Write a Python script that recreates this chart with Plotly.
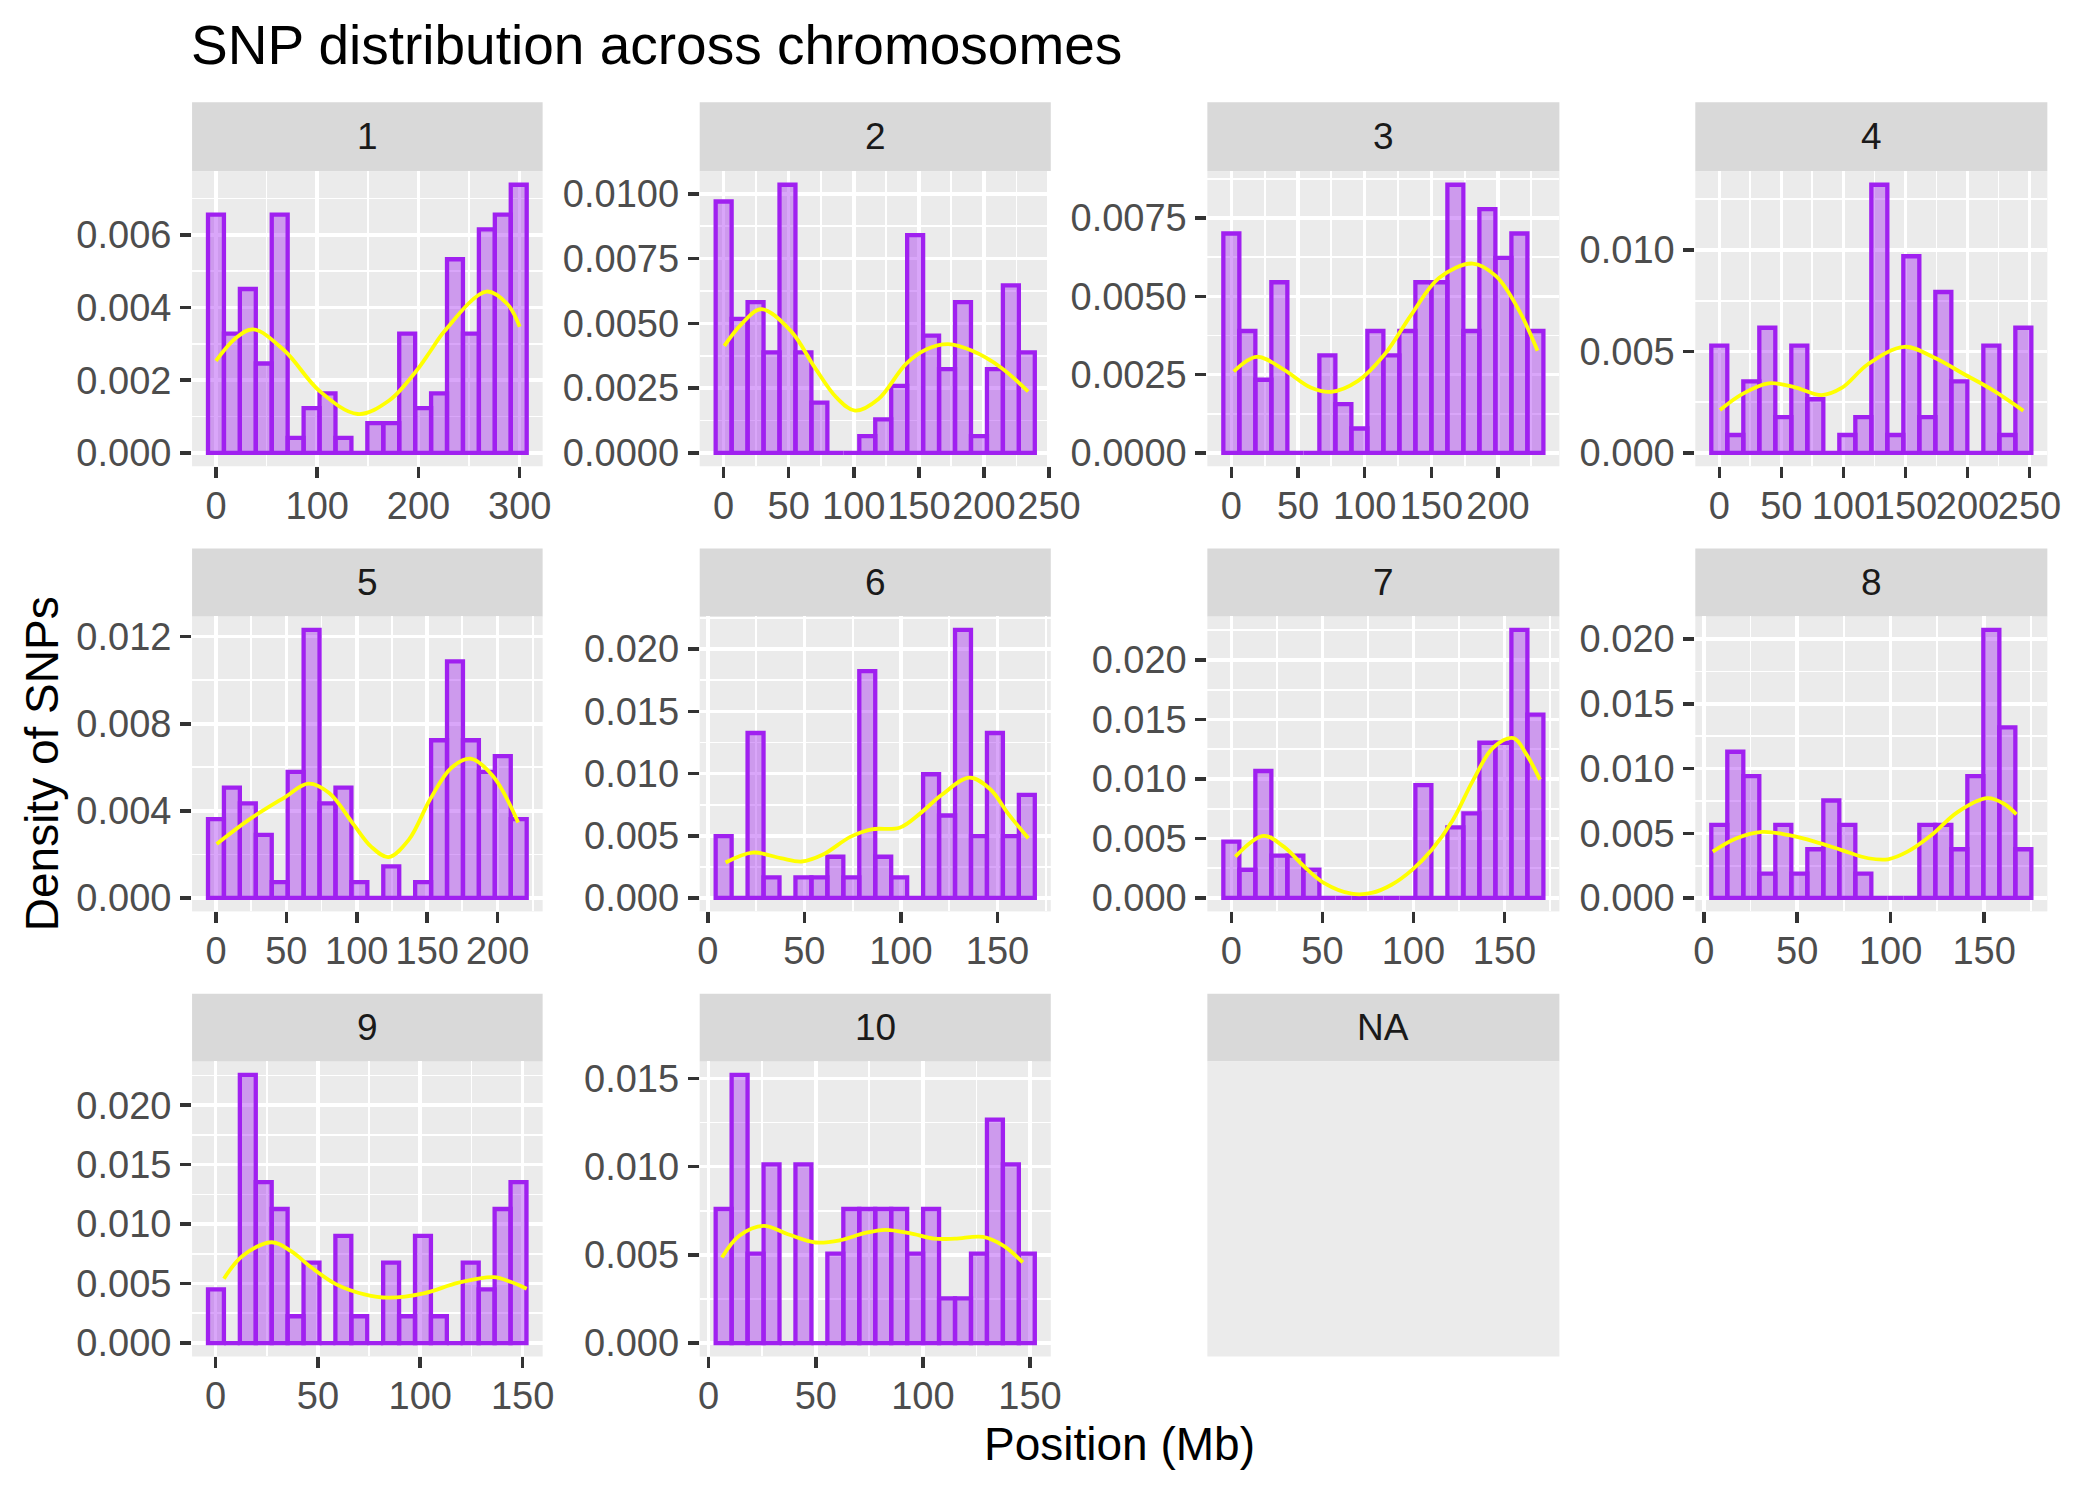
import numpy as np
import plotly.graph_objects as go

# ---------------- data ----------------
chromosomes = ["1", "2", "3", "4", "5", "6", "7", "8", "9", "10"]

# centre of first and last histogram bin (Mb), 20 bins each
bin_first = [0.0, 0.0, 0.0, 0.0, 0.0, 8.2, 0.0, 8.3, 0.2, 7.0]
bin_last = [299.0, 233.0, 228.0, 245.0, 215.0, 165.2, 167.0, 171.0, 148.0, 148.5]

# SNP counts per bin
counts_1 = [16, 8, 11, 6, 16, 1, 3, 4, 1, 0, 2, 2, 8, 3, 4, 13, 8, 15, 16, 18]
counts_2 = [15, 8, 9, 6, 16, 6, 3, 0, 0, 1, 2, 4, 13, 7, 5, 9, 1, 5, 10, 6]
counts_3 = [9, 5, 3, 7, 0, 0, 4, 2, 1, 5, 4, 5, 7, 7, 11, 5, 10, 8, 9, 5]
counts_4 = [6, 1, 4, 7, 2, 6, 3, 0, 1, 2, 15, 1, 11, 2, 9, 4, 0, 6, 1, 7]
counts_5 = [5, 7, 6, 4, 1, 8, 17, 6, 7, 1, 0, 2, 0, 1, 10, 15, 10, 8, 9, 5]
counts_6 = [3, 0, 8, 1, 0, 1, 1, 2, 1, 11, 2, 1, 0, 6, 4, 13, 3, 8, 3, 5]
counts_7 = [4, 2, 9, 3, 3, 2, 0, 0, 0, 0, 0, 0, 8, 0, 5, 6, 11, 11, 19, 13]
counts_8 = [3, 6, 5, 1, 3, 1, 2, 4, 3, 1, 0, 0, 0, 3, 3, 2, 5, 11, 7, 2]
counts_9 = [2, 0, 10, 6, 5, 1, 3, 0, 4, 1, 0, 3, 1, 4, 1, 0, 3, 2, 5, 6]
counts_10 = [3, 6, 2, 4, 0, 4, 0, 2, 3, 3, 3, 3, 2, 3, 1, 1, 2, 5, 4, 2]
counts_all = [counts_1, counts_2, counts_3, counts_4, counts_5,
              counts_6, counts_7, counts_8, counts_9, counts_10]

# kernel density curves (x in Mb, y in 1e-3 density units)
dens_x_1 = [0, 19.6, 36.8, 67.8, 102, 140, 171, 198, 212, 226, 267, 288, 300]
dens_y_1 = [2.53, 3.16, 3.40, 2.81, 1.71, 1.07, 1.44, 2.26, 2.81, 3.36, 4.44, 4.09, 3.47]
dens_x_2 = [0.5, 13.7, 28.8, 51.6, 70, 86.6, 101, 119, 140, 156, 172.6, 191, 213, 234]
dens_y_2 = [4.13, 4.97, 5.55, 4.71, 3.30, 2.14, 1.63, 2.08, 3.43, 4.0, 4.20, 3.94, 3.30, 2.37]
dens_x_3 = [1.8, 19, 39, 59.5, 74.7, 95, 115, 135, 155.7, 181, 198.7, 216, 229.6]
dens_y_3 = [2.60, 3.07, 2.67, 2.09, 1.95, 2.30, 3.15, 4.42, 5.59, 6.05, 5.64, 4.53, 3.26]
dens_x_4 = [0.5, 18.4, 39.8, 61, 82.5, 98.6, 120, 149, 173, 197, 221, 245]
dens_y_4 = [2.11, 2.90, 3.43, 3.23, 2.85, 3.20, 4.38, 5.23, 4.70, 3.89, 3.07, 2.08]
dens_x_5 = [0.5, 23.5, 48, 65.6, 80.4, 97.8, 110, 122.5, 137, 152, 167, 180.7, 196.8, 214.6]
dens_y_5 = [2.48, 3.60, 4.59, 5.25, 4.82, 3.37, 2.37, 1.88, 2.68, 4.52, 5.97, 6.40, 5.59, 3.47]
dens_x_6 = [9.2, 23.2, 37.7, 48.6, 59.4, 74, 84.8, 99.3, 110, 121, 135.5, 146.4, 155.4, 166]
dens_y_6 = [2.85, 3.65, 3.2, 2.93, 3.47, 4.93, 5.52, 5.65, 6.8, 8.27, 9.68, 8.72, 6.8, 4.8]
dens_x_7 = [2.2, 17.6, 28.8, 40, 51, 66, 77, 88, 99.3, 110, 121.6, 132.7, 143.9, 155, 162, 169.5]
dens_y_7 = [3.47, 5.22, 4.31, 2.64, 1.25, 0.36, 0.42, 1.11, 2.36, 4.03, 6.53, 9.86, 12.64, 13.42, 12.08, 9.94]
dens_x_8 = [4.8, 17.2, 31.3, 45.5, 59.7, 73.8, 88, 98.6, 109, 121.7, 135.8, 151.8, 160.6, 167.3]
dens_y_8 = [3.58, 4.6, 5.11, 4.85, 4.34, 3.70, 3.07, 2.99, 3.58, 4.85, 6.64, 7.71, 7.28, 6.46]
dens_x_9 = [4.1, 13, 27.5, 36.9, 47, 59, 72.7, 84.6, 101.7, 118.8, 135.8, 144.4, 152]
dens_y_9 = [5.41, 7.31, 8.48, 7.73, 6.33, 4.94, 4.10, 3.82, 4.18, 5.08, 5.55, 5.13, 4.57]
dens_x_10 = [6.2, 14.3, 25.6, 37, 50, 61.4, 72.7, 82.5, 93.8, 105.2, 115, 128, 137.7, 146.6]
dens_y_10 = [4.85, 6.08, 6.64, 6.17, 5.70, 5.83, 6.23, 6.42, 6.23, 5.92, 5.92, 6.02, 5.51, 4.57]
dens_x_all = [dens_x_1, dens_x_2, dens_x_3, dens_x_4, dens_x_5,
              dens_x_6, dens_x_7, dens_x_8, dens_x_9, dens_x_10]
dens_y_all = [dens_y_1, dens_y_2, dens_y_3, dens_y_4, dens_y_5,
              dens_y_6, dens_y_7, dens_y_8, dens_y_9, dens_y_10]

# tick spacing per panel
x_tick_step = [100, 50, 50, 50, 50, 50, 50, 50, 50, 50]
y_tick_step = [0.002, 0.0025, 0.0025, 0.005, 0.004, 0.005, 0.005, 0.005, 0.005, 0.005]
y_tick_format = [".3f", ".4f", ".4f", ".3f", ".3f", ".3f", ".3f", ".3f", ".3f", ".3f"]

title_text = "SNP distribution across chromosomes"
x_title = "Position (Mb)"
y_title = "Density of SNPs"
empty_panel_label = "NA"

# ---------------- layout / style ----------------
W, H = 2100, 1499
FONT = "Liberation Sans, Arial, sans-serif"
col_x = [(193, 549), (708.5, 1065), (1224, 1581.5), (1719.5, 2077)]
row_strip = [(99, 168.7), (549, 617.4), (997.8, 1066)]
row_plot = [(168.7, 466), (617.4, 914.7), (1066, 1363.4)]
PANEL_BG = "#EBEBEB"
STRIP_BG = "#D9D9D9"
BAR_LINE = "#A020F0"
BAR_FILL = "rgba(160,32,240,0.4)"
DENS_COLOR = "#FFFF00"
TICK_FONT = dict(family=FONT, size=38, color="#4D4D4D")

fig = go.Figure()
shapes = []
annotations = []


def px_x(v):
    return v / W


def px_y(v):
    return 1 - v / H


for i, chrom in enumerate(chromosomes):
    r, c = divmod(i, 4)
    k = "" if i == 0 else str(i + 1)
    counts = np.array(counts_all[i], dtype=float)
    nb = len(counts)
    width = (bin_last[i] - bin_first[i]) / (nb - 1)
    centers = np.linspace(bin_first[i], bin_last[i], nb)
    density = counts / (counts.sum() * width)
    dx = np.array(dens_x_all[i])
    dy = np.array(dens_y_all[i]) * 1e-3

    fig.add_trace(go.Bar(
        x=centers, y=density, width=width,
        marker=dict(color=BAR_FILL, line=dict(color=BAR_LINE, width=4.3)),
        xaxis="x" + k, yaxis="y" + k, showlegend=False, hoverinfo="skip"))
    fig.add_trace(go.Scatter(
        x=dx, y=dy, mode="lines",
        line=dict(color=DENS_COLOR, width=3.8, shape="spline", smoothing=1.0),
        xaxis="x" + k, yaxis="y" + k, showlegend=False, hoverinfo="skip"))

    lo = min(bin_first[i] - width / 2, dx.min())
    hi = max(bin_last[i] + width / 2, dx.max())
    span = hi - lo
    xr = [lo - 0.05 * span, hi + 0.05 * span]
    ymax = max(density.max(), dy.max())
    yr = [-0.05 * ymax, 1.05 * ymax]

    x0, x1 = col_x[c]
    py0, py1 = row_plot[r]
    xs = x_tick_step[i]
    ys = y_tick_step[i]
    fig.layout["xaxis" + k] = dict(
        domain=[px_x(x0), px_x(x1)], range=xr, anchor="y" + k,
        tick0=0, dtick=xs, ticks="outside", ticklen=11, tickwidth=3.5,
        tickcolor="#333333", tickfont=TICK_FONT, tickangle=0, showgrid=True,
        gridcolor="white", gridwidth=3.5, zeroline=False, showline=False,
        ticklabelstandoff=-5,
        minor=dict(showgrid=True, gridcolor="white", gridwidth=1.8,
                   tick0=0, dtick=xs / 2, ticks=""),
        fixedrange=True)
    fig.layout["yaxis" + k] = dict(
        domain=[px_y(py1), px_y(py0)], range=yr, anchor="x" + k,
        tick0=0, dtick=ys, tickformat=y_tick_format[i], ticks="outside",
        ticklen=11, tickwidth=3.5, tickcolor="#333333", tickfont=TICK_FONT,
        showgrid=True, gridcolor="white", gridwidth=3.5, zeroline=False,
        showline=False, ticklabelstandoff=1,
        minor=dict(showgrid=True, gridcolor="white", gridwidth=1.8,
                   tick0=0, dtick=ys / 2, ticks=""),
        fixedrange=True)

    s0, s1 = row_strip[r]
    shapes.append(dict(type="rect", xref="paper", yref="paper",
                       x0=px_x(x0), x1=px_x(x1), y0=px_y(s1), y1=px_y(s0),
                       fillcolor=STRIP_BG, line=dict(width=0), layer="below"))
    annotations.append(dict(text=chrom, xref="paper", yref="paper",
                            x=px_x((x0 + x1) / 2), y=px_y((s0 + s1) / 2),
                            xanchor="center", yanchor="middle", showarrow=False,
                            font=dict(family=FONT, size=37, color="#1A1A1A")))

# empty "NA" facet
x0, x1 = col_x[2]
s0, s1 = row_strip[2]
py0, py1 = row_plot[2]
shapes.append(dict(type="rect", xref="paper", yref="paper",
                   x0=px_x(x0), x1=px_x(x1), y0=px_y(s1), y1=px_y(s0),
                   fillcolor=STRIP_BG, line=dict(width=0), layer="below"))
shapes.append(dict(type="rect", xref="paper", yref="paper",
                   x0=px_x(x0), x1=px_x(x1), y0=px_y(py1), y1=px_y(py0),
                   fillcolor=PANEL_BG, line=dict(width=0), layer="below"))
annotations.append(dict(text=empty_panel_label, xref="paper", yref="paper",
                        x=px_x((x0 + x1) / 2), y=px_y((s0 + s1) / 2),
                        xanchor="center", yanchor="middle", showarrow=False,
                        font=dict(family=FONT, size=37, color="#1A1A1A")))

# axis titles
annotations.append(dict(text=x_title, xref="paper", yref="paper",
                        x=px_x(1135), y=px_y(1452), xanchor="center",
                        yanchor="middle", showarrow=False,
                        font=dict(family=FONT, size=46, color="black")))
annotations.append(dict(text=y_title, xref="paper", yref="paper",
                        x=px_x(40), y=px_y(766), xanchor="center",
                        yanchor="middle", showarrow=False, textangle=-90,
                        font=dict(family=FONT, size=46, color="black")))

fig.update_layout(
    width=W, height=H, autosize=False,
    margin=dict(l=0, r=0, t=0, b=0),
    paper_bgcolor="white", plot_bgcolor=PANEL_BG,
    bargap=0, barmode="overlay",
    shapes=shapes, annotations=annotations,
    title=dict(text=title_text, x=px_x(191), xanchor="left",
               y=px_y(45), yanchor="middle",
               font=dict(family=FONT, size=55, color="black")),
    showlegend=False,
)

fig.write_html("out.html",
               config={"displayModeBar": False, "staticPlot": True},
               post_script="document.body.style.margin='0';"
                           "document.body.style.overflow='hidden';")
